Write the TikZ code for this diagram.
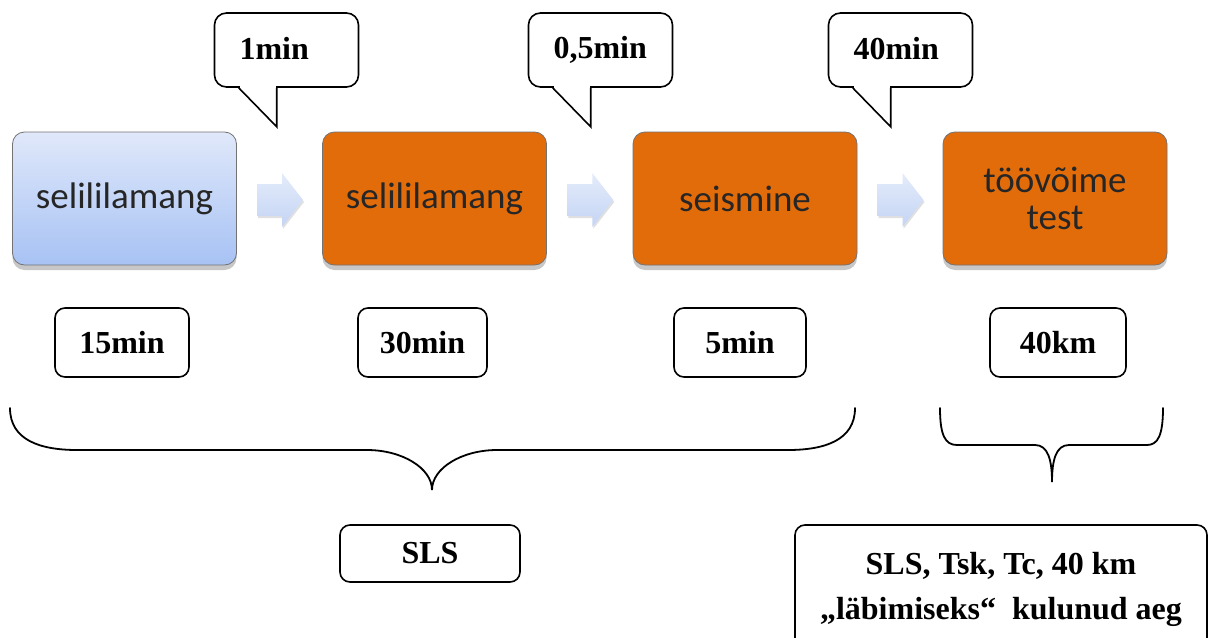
\documentclass[tikz,border=0pt]{standalone}
\usepackage{fontspec}
\setmainfont{Liberation Serif}
\newfontfamily\calib{Carlito}
\usetikzlibrary{calc,shadows}
\definecolor{orng}{HTML}{E36C0A}
\definecolor{bluetop}{HTML}{E0E8FA}
\definecolor{bluebot}{HTML}{A7C2F4}
\definecolor{arrtop}{HTML}{E4ECFB}
\definecolor{arrbot}{HTML}{C4D4F4}
\begin{document}
\begin{tikzpicture}[x=1pt,y=-1pt,
  stage/.style={draw=black!55, line width=0.8pt, rounded corners=12pt,
    minimum width=224pt, minimum height=133pt, inner sep=0pt, align=center,
    text=black!85, font=\calib\fontsize{37}{40}\selectfont,
    drop shadow={shadow xshift=0pt, shadow yshift=-5pt, opacity=0.22, fill=black}},
  orangestage/.style={stage, fill=orng},
  bluestage/.style={stage, top color=bluetop, bottom color=bluebot},
  callout/.style={draw, fill=white, line width=1.6pt, rounded corners=12pt,
    minimum width=144pt, minimum height=74pt, text width=94pt, inner xsep=25pt,
    inner ysep=0pt, align=left, font=\fontsize{32}{36}\selectfont\bfseries},
  timebox/.style={draw, line width=1.6pt, rounded corners=10pt, minimum height=69pt,
    inner sep=0pt, align=center, font=\fontsize{32}{45}\selectfont\bfseries},
  brace/.style={line width=1.8pt, line cap=round}
]
\clip (0,0) rectangle (1209,637);
\fill[white] (0,0) rectangle (1209,637);

% stage boxes
\node[bluestage]   (b1) at (124.5,198.5) {\raisebox{-2pt}{selililamang}};
\node[orangestage] (b2) at (434.5,198.5) {\raisebox{-2pt}{selililamang}};
\node[orangestage] (b3) at (745,198.5)   {\raisebox{-2pt}{seismine}};
\node[orangestage] (b4) at (1055,198.5)  {töövõime\\[-3pt]test};

% block arrows between stages
\coordinate (m1) at ($(b1.east)!0.5!(b2.west)$);
\coordinate (m2) at ($(b2.east)!0.5!(b3.west)$);
\coordinate (m3) at ($(b3.east)!0.5!(b4.west)$);
\foreach \m in {m1,m2,m3}{
  \begin{scope}[shift={(\m)}]
    \fill[black, opacity=0.12] (-21.5,-12.5) -- (3.5,-12.5) -- (3.5,-23.5) -- (24.5,3.5)
      -- (3.5,30.5) -- (3.5,19.5) -- (-21.5,19.5) -- cycle;
    \shade[top color=arrtop, bottom color=arrbot] (-22.5,-14.5) -- (2.5,-14.5) -- (2.5,-25.5)
      -- (23.5,1.5) -- (2.5,28.5) -- (2.5,17.5) -- (-22.5,17.5) -- cycle;
  \end{scope}
}

% callouts
\node[callout] (c1) at (286.5,50) {\raisebox{3pt}{1min}};
\node[callout] (c2) at (600.5,50) {\raisebox{3pt}{0,5min}};
\node[callout] (c3) at (900.5,50) {\raisebox{3pt}{40min}};
\foreach \c in {c1,c2,c3}{
  \coordinate (\c a) at ($(\c.south west)+(25,0)$);
  \coordinate (\c b) at ($(\c.south west)+(63,0)$);
  \coordinate (\c t) at ($(\c b)+(0,39)$);
  \fill[white] ($(\c a)+(1,-1.6)$) rectangle ($(\c b)+(-1,1.6)$);
  \draw[line width=1.6pt, line join=miter] (\c a) -- (\c t) -- (\c b);
}

% time boxes
\node[timebox, minimum width=134pt] (t1) at (122,342.5) {15min};
\node[timebox, minimum width=129pt] (t2) at (422.5,342.5) {30min};
\node[timebox, minimum width=132pt] (t3) at (740,342.5) {5min};
\node[timebox, minimum width=136pt] (t4) at (1058,342.5) {40km};

% braces
\draw[brace] (10,408) .. controls (10,440) and (40,450) .. (77,450) -- (367,450)
  .. controls (402,450) and (432,468) .. (432,490)
  .. controls (432,468) and (462,450) .. (497,450) -- (788,450)
  .. controls (825,450) and (855,440) .. (855,408);
\draw[brace] (940,408) .. controls (940,435) and (945,445) .. (957,445) -- (1035,445)
  .. controls (1048,445) and (1052,460) .. (1052,482)
  .. controls (1052,460) and (1056,445) .. (1069,445) -- (1147,445)
  .. controls (1158,445) and (1163,435) .. (1163,408);

% result boxes
\node[timebox, minimum width=180pt, minimum height=57pt] (r1) at (430,553.5) {SLS};
\node[timebox, minimum width=412pt, minimum height=128pt] (r2) at (1001,589)
  {SLS, Tsk, Tc, 40 km\\„läbimiseks“\ \ kulunud aeg};
\end{tikzpicture}
\end{document}
